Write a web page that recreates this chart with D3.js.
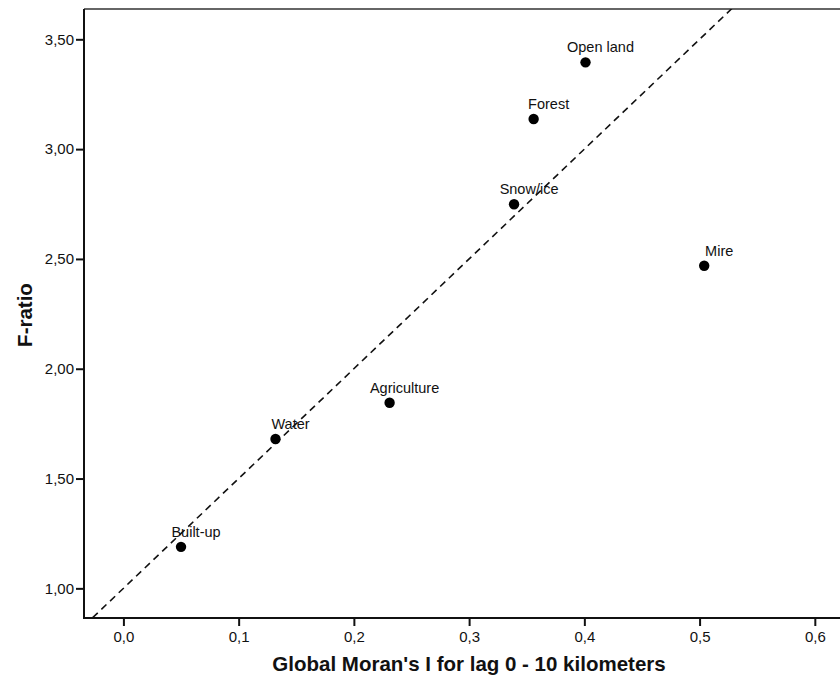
<!DOCTYPE html>
<html>
<head>
<meta charset="utf-8">
<script src="https://cdn.jsdelivr.net/npm/d3@7/dist/d3.min.js"></script>
<style>
  html, body { margin: 0; padding: 0; background: #fff; }
  svg { display: block; font-family: "Liberation Sans", Arial, sans-serif; }
</style>
</head>
<body>
<svg id="chart" width="840" height="678"></svg>
<script>
// ---- data ----
const categories = ["Open land", "Forest", "Snow/ice", "Mire", "Agriculture", "Water", "Built-up"];
const moransI   = [0.401, 0.356, 0.339, 0.504, 0.231, 0.132, 0.050];
const fRatio    = [3.395, 3.137, 2.749, 2.469, 1.845, 1.680, 1.189];
const xTicks = [0.0, 0.1, 0.2, 0.3, 0.4, 0.5, 0.6];
const yTicks = [1.0, 1.5, 2.0, 2.5, 3.0, 3.5];
const refLineIntercept = [1.0];
const refLineSlope = [5.0];
const xTitle = "Global Moran's I for lag 0 - 10 kilometers";
const yTitle = "F-ratio";

// ---- layout ----
const mLeft = 84, mTop = 9, mRight = 854, mBottom = 618;

const svg = d3.select("#chart");
const locale = d3.formatLocale({decimal: ",", thousands: ".", grouping: [3], currency: ["", ""]});
const fx = locale.format(".1f");
const fy = locale.format(".2f");

const x = d3.scaleLinear().domain([-0.0342, 0.634]).range([mLeft, mRight]);
const y = d3.scaleLinear().domain([0.865, 3.638]).range([mBottom, mTop]);

svg.append("defs").append("clipPath").attr("id", "clip")
  .append("rect").attr("x", mLeft).attr("y", mTop).attr("width", mRight - mLeft).attr("height", mBottom - mTop);

// frame top border
svg.append("line").attr("x1", mLeft).attr("x2", mRight).attr("y1", mTop).attr("y2", mTop)
  .attr("stroke", "#333").attr("stroke-width", 1.5);

// axes
const xAxis = d3.axisBottom(x).tickValues(xTicks).tickFormat(fx).tickSize(8).tickSizeOuter(0);
const yAxis = d3.axisLeft(y).tickValues(yTicks).tickFormat(fy).tickSize(8).tickSizeOuter(0);

const gx = svg.append("g").attr("transform", `translate(0,${mBottom})`).call(xAxis);
const gy = svg.append("g").attr("transform", `translate(${mLeft},0)`).call(yAxis);

[gx, gy].forEach(g => {
  g.select(".domain").attr("stroke", "#111").attr("stroke-width", 2);
  g.selectAll(".tick line").attr("stroke", "#111").attr("stroke-width", 2);
  g.selectAll(".tick text").attr("fill", "#111").style("font-size", "15px")
    .style("font-family", "'Liberation Sans', Arial, sans-serif");
});
gx.select(".domain").attr("d", `M${mLeft},0H${mRight}`);
gy.select(".domain").attr("d", `M0,${mBottom + 1}V${mTop}`);
gx.selectAll(".tick text").attr("y", 13);
gy.selectAll(".tick text").attr("x", -10);

// reference line
const plot = svg.append("g").attr("clip-path", "url(#clip)");
const x0 = x.domain()[0], x1 = x.domain()[1];
plot.append("line")
  .attr("x1", x(x0)).attr("y1", y(refLineIntercept[0] + refLineSlope[0] * x0))
  .attr("x2", x(x1)).attr("y2", y(refLineIntercept[0] + refLineSlope[0] * x1))
  .attr("stroke", "#111").attr("stroke-width", 1.6).attr("stroke-dasharray", "7,5");

// points
const data = categories.map((c, i) => ({name: c, x: moransI[i], y: fRatio[i]}));
plot.selectAll("circle.pt").data(data).enter().append("circle")
  .attr("class", "pt")
  .attr("cx", d => x(d.x)).attr("cy", d => y(d.y)).attr("r", 5.2)
  .attr("fill", "#000");

svg.selectAll("text.lbl").data(data).enter().append("text")
  .attr("class", "lbl")
  .attr("x", d => x(d.x) + 15).attr("y", d => y(d.y) - 10)
  .attr("text-anchor", "middle")
  .style("font-size", "14.5px").attr("fill", "#111")
  .text(d => d.name);

// titles
svg.append("text").attr("x", 469).attr("y", 671).attr("text-anchor", "middle")
  .style("font-size", "20.5px").style("font-weight", "bold").attr("fill", "#111")
  .text(xTitle);
svg.append("text").attr("transform", `translate(32,315) rotate(-90)`).attr("text-anchor", "middle")
  .style("font-size", "20.5px").style("font-weight", "bold").attr("fill", "#111")
  .text(yTitle);
</script>
</body>
</html>
